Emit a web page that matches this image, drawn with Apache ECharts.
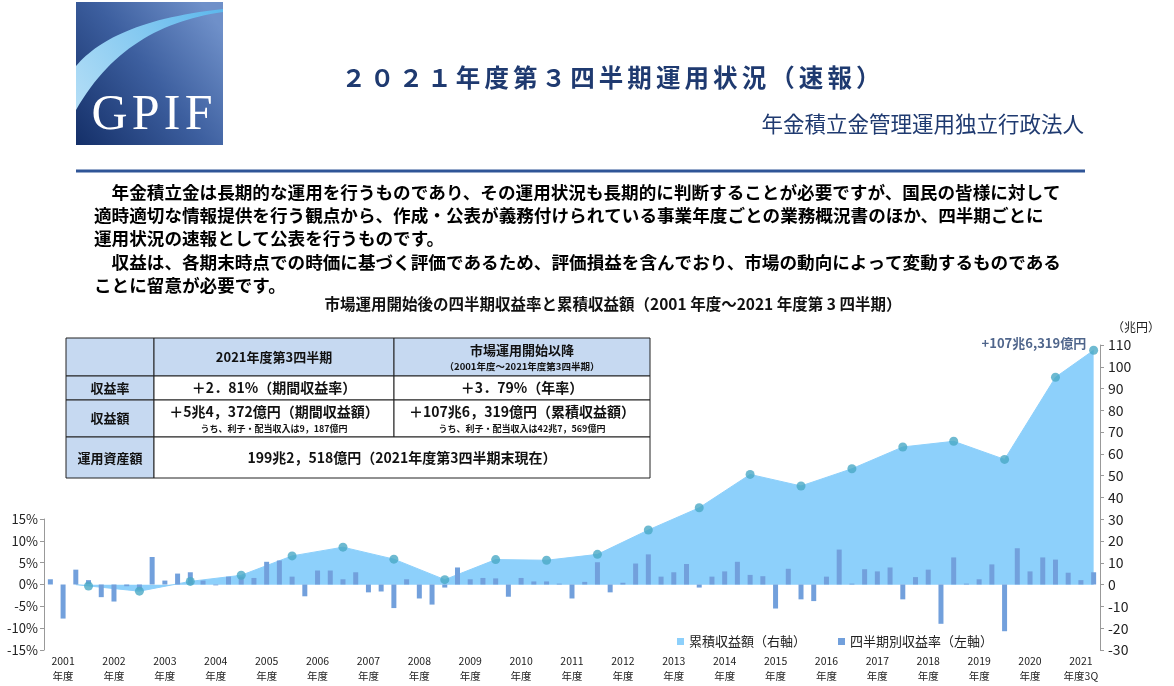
<!DOCTYPE html>
<html><head><meta charset="utf-8">
<script src="https://cdn.jsdelivr.net/npm/echarts@6/dist/echarts.min.js"></script>
<style>html,body{margin:0;padding:0;background:#fff}#c{width:1174px;height:686px}</style>
</head><body><div id="c"></div>
<script>
// ---------- data ----------
const fiscalYears = ['2001','2002','2003','2004','2005','2006','2007','2008','2009','2010','2011','2012','2013','2014','2015','2016','2017','2018','2019','2020','2021'];
const quarterNames = ['Q1','Q2','Q3','Q4'];
const xTickLabels = ['2001\n年度','2002\n年度','2003\n年度','2004\n年度','2005\n年度','2006\n年度','2007\n年度','2008\n年度','2009\n年度','2010\n年度','2011\n年度','2012\n年度','2013\n年度','2014\n年度','2015\n年度','2016\n年度','2017\n年度','2018\n年度','2019\n年度','2020\n年度','2021\n年度3Q'];
// quarterly return (%), 2001Q1 .. 2021Q3
const quarterlyReturn = [
  1.2, -7.8, 3.4, 1.0,
  -2.9, -3.9, -0.4, -1.2,
  6.3, 0.9, 2.5, 2.8,
  0.9, -0.2, 1.8, 1.8,
  1.5, 5.2, 5.5, 1.8,
  -2.7, 3.2, 3.2, 1.2,
  2.8, -1.8, -1.6, -5.4,
  1.2, -3.2, -4.6, -0.7,
  3.9, 1.2, 1.5, 1.4,
  -2.8, 1.5, 0.7, 0.7,
  0.2, -3.2, 0.6, 5.1,
  -1.8, 0.4, 4.8, 6.9,
  1.8, 2.8, 4.7, -0.7,
  1.8, 3.0, 5.2, 2.2,
  1.9, -5.5, 3.6, -3.4,
  -3.8, 1.8, 8.0, 0.2,
  3.5, 3.0, 3.9, -3.4,
  1.7, 3.4, -9.0, 6.2,
  0.2, 1.2, 4.6, -10.7,
  8.3, 3.0, 6.2, 5.7,
  2.7, 1.0, 2.8
];
// cumulative return (trillion yen) at each fiscal year end (2021 = Q3)
const cumulativeReturn = [-0.6, -3.0, 1.5, 4.3, 13.2, 17.2, 11.7, 2.3, 11.5, 11.2, 13.9, 25.1, 35.3, 50.6, 45.3, 53.2, 63.2, 65.8, 57.5, 95.2, 107.6];
const cumulativeStart = 0;          // area starts from zero (2001 Q3)
const cumulativeStartIndex = 2;
const cumulativeLabel = '+107兆6,319億円';

// ---------- build ----------
const categories = [];
fiscalYears.forEach(y => quarterNames.forEach((q, qi) => {
  if (y === '2021' && qi > 2) return;
  categories.push(y + q);
}));
const yearEndIdx = fiscalYears.map((y, i) => Math.min(i * 4 + 3, categories.length - 1));
const areaData = categories.map(() => null);
areaData[cumulativeStartIndex] = cumulativeStart;
yearEndIdx.forEach((idx, i) => { areaData[idx] = cumulativeReturn[i]; });

const FONT = '"Noto Sans CJK JP", "Noto Sans", sans-serif';
const NAVY = '#1f3a70';

const dotData = yearEndIdx.map((idx, i) => {
  const item = { value: [idx, cumulativeReturn[i]] };
  if (i === cumulativeReturn.length - 1) {
    item.label = {
      show: true, position: 'left', distance: 3, offset: [0, -7],
      formatter: cumulativeLabel, fontSize: 13, fontWeight: 'bold', color: '#233f6e', fontFamily: FONT
    };
  }
  return item;
});

function txt(text, x, y, size, opts) {
  return { type: 'text', silent: true, z: 10,
    style: Object.assign({ text, x, y, fill: '#111', fontSize: size, fontFamily: FONT, fontWeight: 'bold',
      textAlign: 'center', textVerticalAlign: 'middle', align: 'center', verticalAlign: 'middle' }, opts || {}) };
}
function cell(x, y, w, h, fill) {
  return { type: 'rect', silent: true, z: 9, shape: { x, y, width: w, height: h },
    style: { fill, stroke: '#222', lineWidth: 1 } };
}
// logo swoosh outline (decoration) sampled from two cubic curves
function cubic(p0, p1, p2, p3, n) {
  const pts = [];
  for (let k = 0; k <= n; k++) {
    const t = k / n, u = 1 - t;
    pts.push([
      u*u*u*p0[0] + 3*u*u*t*p1[0] + 3*u*t*t*p2[0] + t*t*t*p3[0],
      u*u*u*p0[1] + 3*u*u*t*p1[1] + 3*u*t*t*p2[1] + t*t*t*p3[1]
    ]);
  }
  return pts;
}
const swoosh = cubic([76, 66], [98, 40], [140, 18], [223, 9], 30)
  .concat(cubic([223, 12], [160, 21], [110, 50], [76, 110], 30));

const titleText = '２０２１年度第３四半期運用状況（速報）';
const paragraph = [
  '\u3000年金積立金は長期的な運用を行うものであり、その運用状況も長期的に判断することが必要ですが、国民の皆様に対して',
  '適時適切な情報提供を行う観点から、作成・公表が義務付けられている事業年度ごとの業務概況書のほか、四半期ごとに',
  '運用状況の速報として公表を行うものです。',
  '\u3000収益は、各期末時点での時価に基づく評価であるため、評価損益を含んでおり、市場の動向によって変動するものである',
  'ことに留意が必要です。'
];
const BLUE_CELL = '#c6d9f1';
const cx = [66, 154, 394, 650];
const ry = [338, 376, 400, 437, 478];

const graphics = [
  // logo
  { type: 'rect', silent: true, shape: { x: 76, y: 2, width: 147, height: 143 },
    style: { fill: new echarts.graphic.LinearGradient(0, 1, 1, 0.2, [
      { offset: 0, color: '#142f68' }, { offset: 0.55, color: '#3d5f9f' }, { offset: 1, color: '#6f90c9' }]) } },
  { type: 'polygon', silent: true, shape: { points: swoosh },
    style: { fill: new echarts.graphic.LinearGradient(0, 1, 1, 0, [
      { offset: 0, color: '#b4def6' }, { offset: 1, color: '#5cb7ec' }]) } },
  { type: 'text', silent: true, style: { text: 'G\u200AP\u200AI\u200AF', x: 152, y: 116, fill: '#ffffff',
      fontSize: 50, fontFamily: '"Liberation Serif", "DejaVu Serif", serif',
      textAlign: 'center', textVerticalAlign: 'middle', align: 'center', verticalAlign: 'middle' } },
  // titles
  txt(titleText.split('').join('\u2006'), 611, 78, 24.5, { fill: NAVY }),
  txt('年金積立金管理運用独立行政法人', 1084, 124, 21.5, { fill: NAVY, fontWeight: 'normal', textAlign: 'right', align: 'right' }),
  { type: 'line', silent: true, shape: { x1: 76, y1: 171, x2: 1085, y2: 171 }, style: { stroke: '#2f5597', lineWidth: 3 } },
  // chart title
  txt('市場運用開始後の四半期収益率と累積収益額（2001 年度～2021 年度第 3 四半期）', 613, 304, 15.5, { fill: '#111' }),
  txt('（兆円）', 1136, 327, 12, { fontWeight: 'normal', fill: '#222' }),
  // table cells
  cell(cx[0], ry[0], cx[1] - cx[0], ry[1] - ry[0], BLUE_CELL),
  cell(cx[1], ry[0], cx[2] - cx[1], ry[1] - ry[0], BLUE_CELL),
  cell(cx[2], ry[0], cx[3] - cx[2], ry[1] - ry[0], BLUE_CELL),
  cell(cx[0], ry[1], cx[1] - cx[0], ry[2] - ry[1], BLUE_CELL),
  cell(cx[1], ry[1], cx[2] - cx[1], ry[2] - ry[1], '#fff'),
  cell(cx[2], ry[1], cx[3] - cx[2], ry[2] - ry[1], '#fff'),
  cell(cx[0], ry[2], cx[1] - cx[0], ry[3] - ry[2], BLUE_CELL),
  cell(cx[1], ry[2], cx[2] - cx[1], ry[3] - ry[2], '#fff'),
  cell(cx[2], ry[2], cx[3] - cx[2], ry[3] - ry[2], '#fff'),
  cell(cx[0], ry[3], cx[1] - cx[0], ry[4] - ry[3], BLUE_CELL),
  cell(cx[1], ry[3], cx[3] - cx[1], ry[4] - ry[3], '#fff'),
  // table texts
  txt('2021年度第3四半期', 274, 357, 13),
  txt('市場運用開始以降', 522, 350, 13),
  txt('（2001年度～2021年度第3四半期）', 522, 366, 9.5),
  txt('収益率', 110, 388, 13),
  txt('＋2．81%（期間収益率）', 274, 388, 14),
  txt('＋3．79%（年率）', 522, 388, 14),
  txt('収益額', 110, 418, 13),
  txt('＋5兆4，372億円（期間収益額）', 274, 412, 14),
  txt('うち、利子・配当収入は9，187億円', 274, 429, 9),
  txt('＋107兆6，319億円（累積収益額）', 522, 412, 14),
  txt('うち、利子・配当収入は42兆7，569億円', 522, 429, 9),
  txt('運用資産額', 110, 458, 13),
  txt('199兆2，518億円（2021年度第3四半期末現在）', 402, 458, 14)
];
paragraph.forEach((line, i) => {
  graphics.push(txt(line, 94, 192 + i * 23.3, 17.6, { fill: '#000', textAlign: 'left', align: 'left' }));
});

const chart = echarts.init(document.getElementById('c'), null, { renderer: 'canvas' });
chart.setOption({
  animation: false,
  backgroundColor: '#fff',
  textStyle: { fontFamily: FONT },
  grid: [
    { left: 44, right: 74, top: 345, bottom: 36 },
    { left: 44, right: 74, top: 519, bottom: 36 }
  ],
  xAxis: [
    { type: 'category', gridIndex: 0, data: categories, boundaryGap: true,
      axisLine: { show: false }, axisTick: { show: false },
      axisLabel: { interval: (i) => i % 4 === 1, formatter: (v, i) => xTickLabels[Math.floor(i / 4)],
        fontSize: 10.5, color: '#222', lineHeight: 15, margin: 4 } },
    { type: 'category', gridIndex: 1, data: categories, boundaryGap: true, show: false }
  ],
  yAxis: [
    { type: 'value', gridIndex: 0, position: 'right', min: -30, max: 110, interval: 10,
      axisLine: { show: true, lineStyle: { color: '#999' } },
      axisTick: { show: true, length: 4, lineStyle: { color: '#999' } },
      axisLabel: { fontSize: 14, color: '#222', margin: 8 }, splitLine: { show: false } },
    { type: 'value', gridIndex: 1, position: 'left', min: -15, max: 15, interval: 5,
      axisLine: { show: true, lineStyle: { color: '#999' } },
      axisTick: { show: true, length: 4, lineStyle: { color: '#999' } },
      axisLabel: { formatter: '{value}%', fontSize: 13, color: '#222', margin: 6 }, splitLine: { show: false } }
  ],
  legend: {
    left: 672, top: 630, icon: 'rect', itemWidth: 7, itemHeight: 7, itemGap: 32,
    textStyle: { fontSize: 13, color: '#222' },
    data: ['累積収益額（右軸）', '四半期別収益率（左軸）']
  },
  series: [
    { name: '累積収益額（右軸）', type: 'line', xAxisIndex: 0, yAxisIndex: 0, data: areaData,
      connectNulls: true, showSymbol: false, symbol: 'none', z: 1,
      lineStyle: { color: '#8dd0fb', width: 1 }, itemStyle: { color: '#8dd0fb' },
      areaStyle: { color: '#8dd0fb', opacity: 1 } },
    { name: '四半期別収益率（左軸）', type: 'bar', xAxisIndex: 1, yAxisIndex: 1, data: quarterlyReturn,
      barWidth: 5, z: 3, itemStyle: { color: '#72a0dc' } },
    { name: 'dots', type: 'scatter', xAxisIndex: 0, yAxisIndex: 0, data: dotData,
      symbolSize: 9, z: 4, itemStyle: { color: '#4aa9c5' } }
  ],
  graphic: graphics
});
</script>
</body></html>
